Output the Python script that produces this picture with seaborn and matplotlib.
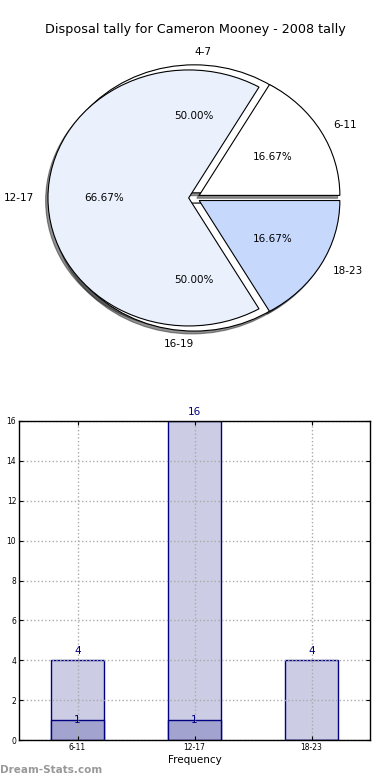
import numpy as np
import pandas as pd
import matplotlib
matplotlib.use("Agg")
import matplotlib.pyplot as plt
import seaborn as sns

# data
title = "Disposal tally for Cameron Mooney - 2008 tally"
back_labels = ["4-7", "16-19"]
back_values = [1, 1]
age_groups = ["6-11", "12-17", "18-23"]
totals = [4, 16, 4]
inner = [1, 1, 0]
pie_colors = ["#ffffff", "#eaf1fd", "#c6d9fd"]

sns.set_style("white", {"text.color": "black", "axes.labelcolor": "black",
                        "xtick.color": "black", "ytick.color": "black"})
plt.rcParams["font.family"] = ["DejaVu Sans"]

fig = plt.figure(figsize=(3.9, 7.8), dpi=100)
fig.text(0.5, 1 - 30 / 780, title, ha="center", va="center", fontsize=9.2)

shadow = {"ox": -0.012, "oy": -0.016, "shade": 0.85}

# pie (two overlaid pies, like the original)
ax1 = fig.add_axes([0, 1 - 360 / 780, 1, 320 / 780])
_, back_txt, _ = ax1.pie(back_values, labels=back_labels, colors=["white", "white"],
                         explode=[0.04] * 2, autopct="%.2f%%", startangle=0,
                         labeldistance=1.1, pctdistance=0.6, shadow=shadow,
                         wedgeprops={"edgecolor": "black", "linewidth": 0.8},
                         textprops={"fontsize": 7.5, "color": "black"})
back_txt[0].set_ha("left")
back_txt[1].set_ha("right")
ax1.pie(totals, labels=age_groups, colors=pie_colors, explode=[0.04] * 3,
        autopct="%.2f%%", startangle=0, labeldistance=1.1, pctdistance=0.6,
        shadow=shadow,
        wedgeprops={"edgecolor": "black", "linewidth": 0.8},
        textprops={"fontsize": 7.5, "color": "black"})
ax1.set_aspect("auto")
ax1.set_xlim(-1.381, 1.391)
ax1.set_ylim(-1.266, 1.234)
ax1.axis("off")

# bars
ax2 = fig.add_axes([19 / 390, 40 / 780, 351 / 390, 319 / 780])
sns.barplot(x=age_groups, y=totals, width=0.45, color="#ccccE4", saturation=1,
            edgecolor="navy", linewidth=1, ax=ax2)
sns.barplot(x=age_groups, y=inner, width=0.45, color="#a3a3d0", saturation=1,
            edgecolor="navy", linewidth=1, ax=ax2)
for i, v in enumerate(totals):
    ax2.annotate(str(v), (i, v), xytext=(0, 3), textcoords="offset points",
                 ha="center", va="bottom", color="navy", fontsize=7.5)
for i, v in enumerate(inner):
    if v:
        ax2.text(i, v, str(v), ha="center", va="center", color="navy", fontsize=7.5)

ax2.set_xlim(-0.5, 2.5)
ax2.set_ylim(0, 16)
ax2.set_yticks(np.arange(0, 17, 2))
ax2.set_axisbelow(False)
ax2.grid(True, linestyle=":", color="#aaaaaa", linewidth=1)
ax2.tick_params(labelsize=5.5, direction="in", length=3, top=True, right=True,
                left=True, bottom=True, pad=2)
for s in ax2.spines.values():
    s.set_color("black")
    s.set_linewidth(1)
    s.set_zorder(5)
ax2.set_xlabel("Frequency", fontsize=7.5, labelpad=2)
ax2.set_ylabel("")

fig.text(0.0, 10 / 780, "Dream-Stats.com", ha="left", va="center",
         color="#999999", fontsize=7.5, fontweight="bold")

fig.savefig("out.png", dpi=100)
